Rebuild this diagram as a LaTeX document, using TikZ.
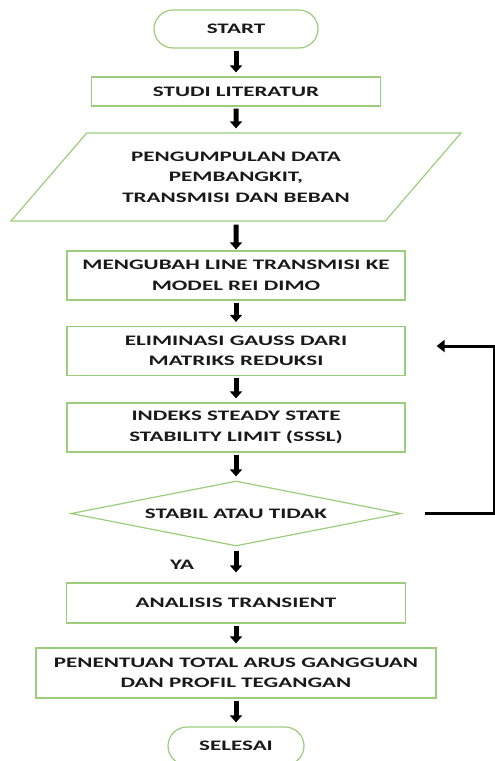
\documentclass[tikz,border=0pt]{standalone}
\usepackage{fontspec}
\setmainfont{Carlito}[FakeStretch=1.59]
\usetikzlibrary{positioning,shapes.geometric,arrows.meta}
\definecolor{boxgreen}{RGB}{155,205,125}
\definecolor{inkgray}{RGB}{25,25,25}

\begin{document}
\begin{tikzpicture}[x=1pt,y=1pt,node distance=80pt,every node/.style={text=inkgray, font=\bfseries\fontsize{14.5}{20.5}\selectfont, align=center},term/.style={rectangle, rounded corners=19pt, draw=boxgreen, line width=1.2pt, minimum width=164pt, minimum height=38pt},proc/.style={rectangle, draw=boxgreen, line width=1.2pt, minimum width=338pt, minimum height=49pt},data_in/.style={trapezium, trapezium left angle=44, trapezium right angle=136, trapezium stretches=true, draw=boxgreen, line width=1.2pt, minimum width=452pt, minimum height=88pt},decide/.style={diamond, aspect=5, draw=boxgreen, line width=1.2pt, minimum width=330pt, minimum height=65pt, inner sep=0pt},flow/.style={-{Triangle[width=12pt,length=7pt]}, line width=5pt, black, shorten <=2pt, shorten >=4pt},back/.style={-{Triangle[width=12pt,length=8pt]}, line width=3pt, black, shorten <=23pt, shorten >=31pt},]
            \useasboundingbox (0,0) rectangle (495,-761);
            \node[term] (start) at (236,-29) {START};
            \node[proc, below of=start, yshift=17.5pt, minimum width=289pt, minimum height=29pt] (studi) {STUDI LITERATUR};
            \node[data_in, below of=studi, yshift=-5.5pt] (data) {PENGUMPULAN DATA\\PEMBANGKIT,\\TRANSMISI DAN BEBAN};
            \node[proc, below of=data, yshift=-18.5pt] (ubah) {MENGUBAH LINE TRANSMISI KE\\MODEL REI DIMO};
            \node[proc, below of=ubah, yshift=4.5pt] (elim) {ELIMINASI GAUSS DARI\\MATRIKS REDUKSI};
            \node[proc, below of=elim, yshift=3.5pt] (sssl) {INDEKS STEADY STATE\\STABILITY LIMIT (SSSL)};
            \node[decide, below of=sssl, yshift=-6pt] (cek) {STABIL ATAU TIDAK};
            \node[proc, below of=cek, yshift=-9.5pt, minimum width=339pt, minimum height=40pt] (transien) {ANALISIS TRANSIENT};
            \node[proc, below of=transien, yshift=10pt, minimum width=400pt, minimum height=50pt] (arus) {PENENTUAN TOTAL ARUS GANGGUAN\\DAN PROFIL TEGANGAN};
            \node[term, below of=arus, yshift=7pt, minimum width=136pt] (selesai) {SELESAI};
            \draw[flow] (start) -- (studi);
            \draw[flow] (studi) -- (data);
            \draw[flow, shorten <=3pt, shorten >=1pt] (data) -- (ubah);
            \draw[flow] (ubah) -- (elim);
            \draw[flow] (elim) -- (sssl);
            \draw[flow] (sssl) -- (cek);
            \draw[flow, shorten <=4pt, shorten >=10pt] (cek) -- node[anchor=east, xshift=-36pt] {YA} (transien);
            \draw[flow] (transien) -- (arus);
            \draw[flow] (arus) -- (selesai);
            \draw[back] (cek.east) -- ++(93pt,0) |- ([yshift=5pt]elim.east);
        \end{tikzpicture}
\end{document}
